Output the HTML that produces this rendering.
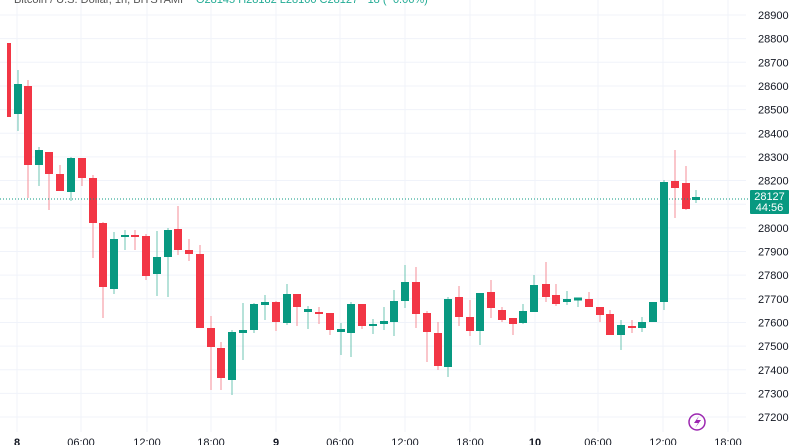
<!DOCTYPE html>
<html><head><meta charset="utf-8"><style>
html,body{margin:0;padding:0;background:#fff;width:800px;height:445px;overflow:hidden}
svg{display:block;font-family:"Liberation Sans",sans-serif}
</style></head><body>
<svg id="s" width="800" height="445" xmlns="http://www.w3.org/2000/svg">
<rect width="800" height="445" fill="#fff"/>
<g id="grid"></g>
<g id="c"></g>
<g id="lbl" font-size="11" fill="#131722"></g>
<text x="14" y="3" font-size="11" fill="#555">Bitcoin / U.S. Dollar, 1h, BITSTAMP</text>
<text x="196" y="3" font-size="11" fill="#22ab94">O28145 H28182 L28100 C28127 −18 (−0.06%)</text>
<line x1="0" y1="199" x2="750" y2="199" stroke="#089981" stroke-width="1" stroke-dasharray="1,2"/>
<rect x="750" y="190" width="39" height="24" rx="1" fill="#089981"/>
<text x="769.5" y="200" font-size="11" fill="#fff" text-anchor="middle">28127</text>
<text x="769.5" y="211" font-size="11" fill="#fff" text-anchor="middle">44:56</text>
<circle cx="697" cy="422" r="8" fill="none" stroke="#9c27b0" stroke-width="1.5"/>
<path d="M699 416 L694 423 L698 423 L695 428 L701 420 L697 420 Z" fill="#9c27b0"/>
</svg>
<script>
var s='http://www.w3.org/2000/svg';
function el(p,t,a,txt){var e=document.createElementNS(s,t);for(var k in a)e.setAttribute(k,a[k]);if(txt)e.textContent=txt;document.getElementById(p).appendChild(e);}
for(var i=0;i<=17;i++){var p=28900-i*100;var y=15+i*23.65;
 el('grid','line',{x1:0,x2:746,y1:y,y2:y,stroke:'#f0f3fa','stroke-width':1});
 el('lbl','text',{x:758,y:y+4},String(p));}
var vx=[17,81,147,211,276,340,405,470,535,598,663,728];
var vl=['8','06:00','12:00','18:00','9','06:00','12:00','18:00','10','06:00','12:00','18:00'];
for(var i=0;i<vx.length;i++){el('grid','line',{x1:vx[i],x2:vx[i],y1:0,y2:432,stroke:'#f0f3fa','stroke-width':1});
 el('lbl','text',{x:vx[i],y:446,'text-anchor':'middle','font-weight':i==0||i==4||i==8?'bold':'normal'},vl[i]);}
var C=[[18,114,84,70,131],[28,86,165,80,198],[39,165,150,147,186],[49,152,174,152,210],
[60,174,191,165,191],[71,192,158,157,201],[82,158,178,158,186],[93,178,223,175,258],[103,223,287,222,318],
[114,289,239,232,294],[125,237,235,230,250],[135,235,237,230,250],[146,236,276,234,280],[157,274,257,231,296],
[168,257,230,228,297],[178,229,250,206,255],[189,250,254,239,261],[200,254,328,245,328],[211,328,347,316,390],
[221,348,378,342,390],[232,380,332,330,395],[243,332,331,303,360],[254,330,304,303,333],[265,305,302,295,320],
[276,302,322,301,331],[287,323,294,284,325],[297,294,307,294,326],[308,311,310,306,329],[319,312,314,307,324],
[330,313,330,313,335],[341,331,330,323,355],[351,333,304,302,357],[362,304,326,304,329],[373,326,324,319,334],
[384,324,321,307,330],[394,322,301,290,336],[405,301,282,265,308],[416,282,314,267,328],[427,313,332,311,362],
[438,333,366,322,370],[448,367,299,297,377],[459,297,317,286,326],[470,317,331,300,336],[480,331,293,293,345],
[491,292,308,280,318],[502,310,320,307,322],[513,318,324,318,335],[523,323,311,304,324],[534,312,285,275,312],
[546,284,297,262,302],[556,295,304,284,306],[567,302,299,291,305],[578,299.5,298.5,299,307],[589,299,307,292,307],
[600,307,315,307,322],[610,314,335,310,335],[621,335,325,320,350],[632,326,328,320,333],[642,328,322,317,332],
[653,322,302,302,322],[664,302,182,180,310],[675,181,188,150,218],[686,183,209,166,210],[696,199,198,190,203]];
el('c','rect',{x:7,y:43,width:4,height:74,fill:'#f23645'});
C.forEach(function(c){var up=c[2]<c[1];var col=up?'#089981':'#f23645';var wc=up?'#6cc5b3':'#f58e97';
 var t=Math.min(c[1],c[2]),b=Math.max(c[1],c[2]);if(b-t<2){t-=1;b+=1;}
 el('c','line',{x1:c[0],x2:c[0],y1:c[3],y2:c[4],stroke:wc,'stroke-width':1});
 el('c','rect',{x:c[0]-4,y:t,width:8,height:b-t,fill:col});});
</script>
</body></html>
